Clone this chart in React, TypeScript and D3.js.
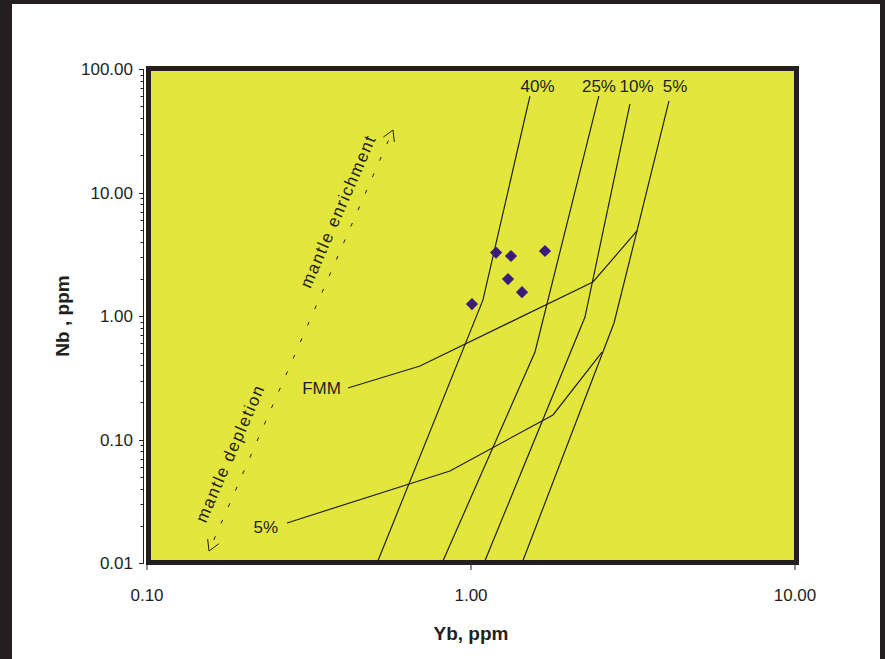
import React, { useRef, useEffect } from 'react';
import * as d3 from 'd3';

// axis ticks
const xTicks = [0.1, 1, 10];
const yTicks = [0.01, 0.1, 1, 10, 100];

// melting curves (Yb, Nb)
const melt40 = [[1.52, 60.4], [1.089, 1.35], [0.513, 0.01]];
const melt25 = [[2.48, 60.4], [1.576, 0.511], [0.814, 0.01]];
const melt10 = [[3.095, 52.1], [2.248, 0.981], [1.097, 0.01]];
const melt5 = [[4.084, 55.1], [3.253, 4.88], [2.763, 0.878], [1.437, 0.01]];
const meltLabels = ['40%', '25%', '10%', '5%'];
const meltLabelYb = [1.604, 2.483, 3.243, 4.263];

// source lines
const fmmLine = [[0.417, 0.261], [0.696, 0.394], [2.379, 1.885], [3.253, 4.88]];
const depleted5 = [[0.2705, 0.0211], [0.861, 0.0556], [1.791, 0.158], [2.537, 0.511]];

// samples
const sampleYb = [1.195, 1.329, 1.692, 1.301, 1.437, 1.007];
const sampleNb = [3.26, 3.06, 3.36, 1.99, 1.56, 1.25];

const W = 885;
const H = 659;
const INK = '#231f20';
const YELLOW = '#e3e63d';

const Chart = () => {
  const svgRef = useRef();

  useEffect(() => {
    const svg = d3.select(svgRef.current);
    svg.selectAll('*').remove();

    const x = d3.scaleLog().domain([0.1, 10]).range([147, 795]);
    const y = d3.scaleLog().domain([0.01, 100]).range([563, 69]);
    const font = 'Liberation Sans, Arial, sans-serif';

    // outer frame
    svg.append('rect').attr('width', W).attr('height', H).attr('fill', INK);
    svg.append('rect').attr('x', 12).attr('y', 4).attr('width', 868).attr('height', H - 4).attr('fill', '#fff');

    // plot area
    svg.append('rect')
      .attr('x', 148.5).attr('y', 68.5)
      .attr('width', 648).attr('height', 494)
      .attr('fill', YELLOW);

    const line = d3.line().x(d => x(d[0])).y(d => y(d[1]));
    const g = svg.append('g').attr('fill', 'none').attr('stroke', INK).attr('stroke-width', 1.2);
    [melt40, melt25, melt10, melt5, fmmLine, depleted5].forEach(c => {
      g.append('path').attr('d', line(c));
    });

    // melt % labels
    meltLabels.forEach((t, i) => {
      svg.append('text')
        .attr('x', x(meltLabelYb[i])).attr('y', 92)
        .attr('text-anchor', 'middle')
        .style('font', `17px ${font}`).attr('fill', INK)
        .text(t);
    });
    svg.append('text')
      .attr('x', x(fmmLine[0][0]) - 7).attr('y', 394)
      .attr('text-anchor', 'end')
      .style('font', `17px ${font}`).attr('fill', INK)
      .text('FMM');
    svg.append('text')
      .attr('x', x(depleted5[0][0]) - 9).attr('y', 533)
      .attr('text-anchor', 'end')
      .style('font', `17px ${font}`).attr('fill', INK)
      .text('5%');

    // samples
    svg.append('g').selectAll('path')
      .data(sampleYb.map((v, i) => [v, sampleNb[i]]))
      .enter()
      .append('path')
      .attr('d', d3.symbol().type(d3.symbolDiamond2).size(95))
      .attr('transform', d => `translate(${x(d[0])},${y(d[1])})`)
      .attr('fill', '#3b1c7a');

    // enrichment / depletion arrow
    const p0 = [209, 551];
    const p1 = [393, 130];
    const len = Math.hypot(p1[0] - p0[0], p1[1] - p0[1]);
    const ux = (p1[0] - p0[0]) / len;
    const uy = (p1[1] - p0[1]) / len;
    const ang = Math.atan2(uy, ux) * 180 / Math.PI;
    svg.append('line')
      .attr('x1', p0[0]).attr('y1', p0[1]).attr('x2', p1[0]).attr('y2', p1[1])
      .attr('stroke', INK).attr('stroke-width', 1)
      .attr('stroke-dasharray', '4 14').attr('stroke-dashoffset', -12);
    const head = (tip, dx, dy) => {
      [30, -30].forEach(a => {
        const r = a * Math.PI / 180;
        const hx = dx * Math.cos(r) - dy * Math.sin(r);
        const hy = dx * Math.sin(r) + dy * Math.cos(r);
        svg.append('line')
          .attr('x1', tip[0]).attr('y1', tip[1])
          .attr('x2', tip[0] + hx * 12).attr('y2', tip[1] + hy * 12)
          .attr('stroke', INK).attr('stroke-width', 1);
      });
    };
    head(p0, ux, uy);
    head(p1, -ux, -uy);

    // rotated labels beside the arrow (offset along the normal)
    const along = (t, off, txt) => {
      const px = p0[0] + ux * t + uy * off;
      const py = p0[1] + uy * t - ux * off;
      svg.append('text')
        .attr('transform', `translate(${px},${py}) rotate(${ang})`)
        .attr('text-anchor', 'middle')
        .style('font', `17px ${font}`)
        .style('letter-spacing', '1.5px')
        .attr('fill', INK)
        .text(txt);
    };
    along(98, 14, 'mantle depletion');
    along(363, 12, 'mantle enrichment');

    // plot border
    svg.append('rect')
      .attr('x', 148.5).attr('y', 68.5)
      .attr('width', 648).attr('height', 494)
      .attr('fill', 'none').attr('stroke', INK).attr('stroke-width', 5);

    // y axis
    const ya = svg.append('g');
    ya.append('line').attr('x1', 143.5).attr('x2', 143.5).attr('y1', y(100)).attr('y2', y(0.01))
      .attr('stroke', INK).attr('stroke-width', 1);
    y.ticks().forEach(t => {
      const major = yTicks.some(v => Math.abs(v - t) / v < 1e-6);
      ya.append('line')
        .attr('x1', major ? 139 : 140.5).attr('x2', 144)
        .attr('y1', Math.round(y(t)) + 0.5).attr('y2', Math.round(y(t)) + 0.5)
        .attr('stroke', INK).attr('stroke-width', 1);
    });
    yTicks.forEach(t => {
      ya.append('text')
        .attr('x', 133).attr('y', y(t) + 6)
        .attr('text-anchor', 'end')
        .style('font', `17px ${font}`).attr('fill', INK)
        .text(d3.format('.2f')(t));
    });

    // x axis
    const xa = svg.append('g');
    xTicks.forEach(t => {
      xa.append('line')
        .attr('x1', x(t)).attr('x2', x(t)).attr('y1', 565).attr('y2', 570)
        .attr('stroke', INK).attr('stroke-width', 1);
      xa.append('text')
        .attr('x', x(t)).attr('y', 601)
        .attr('text-anchor', 'middle')
        .style('font', `17px ${font}`).attr('fill', INK)
        .text(d3.format('.2f')(t));
    });

    // axis titles
    svg.append('text')
      .attr('transform', 'translate(69,316) rotate(-90)')
      .attr('text-anchor', 'middle')
      .style('font', `bold 19px ${font}`).attr('fill', INK)
      .text('Nb , ppm');
    svg.append('text')
      .attr('x', 471).attr('y', 640)
      .attr('text-anchor', 'middle')
      .style('font', `bold 19px ${font}`).attr('fill', INK)
      .text('Yb, ppm');
  }, []);

  return <svg ref={svgRef} width={W} height={H} style={{ position: 'absolute', left: 0, top: 0 }} />;
};

export default function App() {
  return <Chart />;
}
